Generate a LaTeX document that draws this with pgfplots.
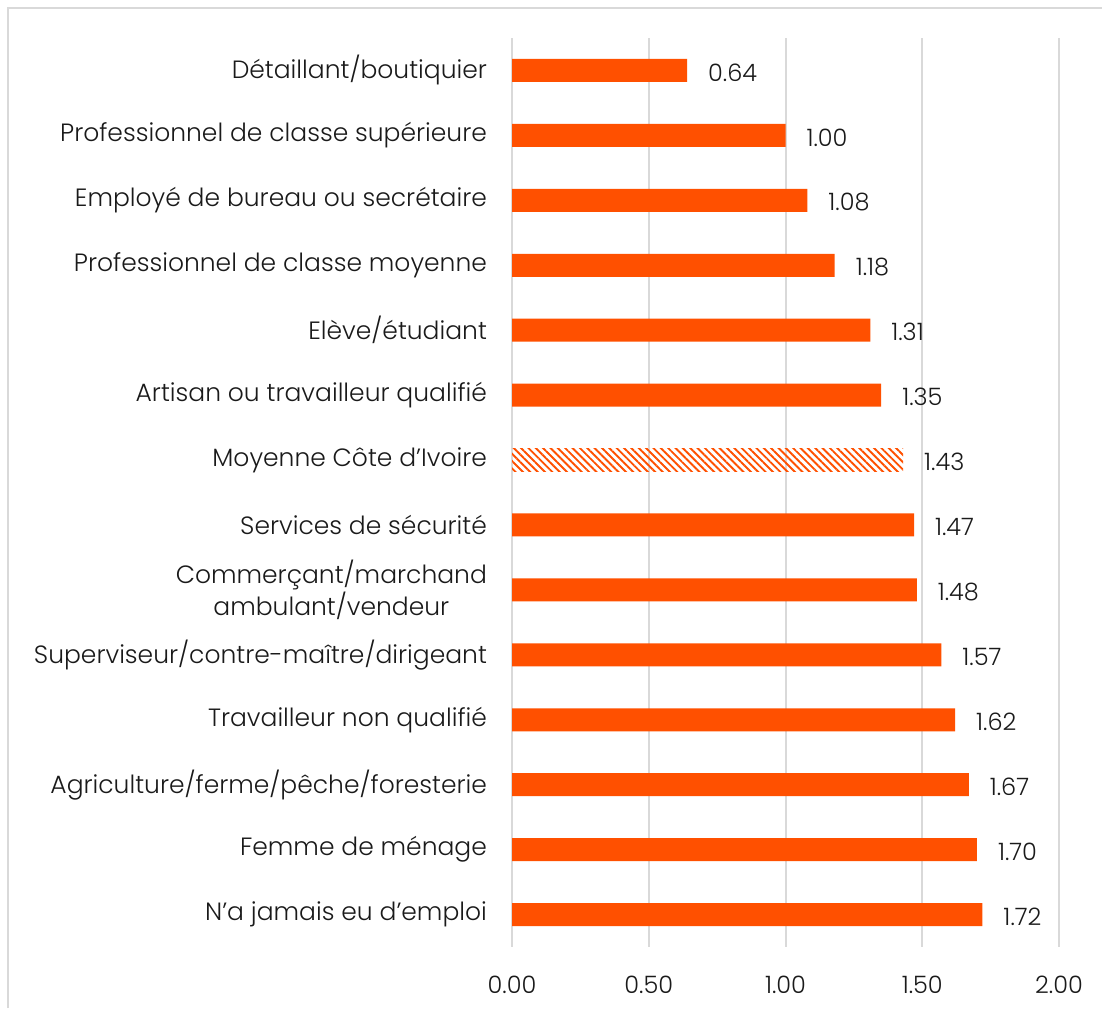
\documentclass[border=0pt]{standalone}
\usepackage{fontspec}
\setmainfont{Poppins}[UprightFont={* Light}]
\usepackage{pgfplots}
\pgfplotsset{compat=1.18}
\usetikzlibrary{patterns.meta}
\definecolor{barc}{HTML}{FF5000}
\definecolor{gridc}{HTML}{D9D9D9}
\definecolor{txt}{HTML}{1A1A1A}
\begin{document}
\begin{tikzpicture}
\path[use as bounding box] (0,0) rectangle (551pt,504pt);
\draw[gridc, line width=1pt] (4pt,0) -- (4pt,500pt) -- (551pt,500pt);
\begin{axis}[at={(256pt,30.5pt)}, anchor=south west, scale only axis,
 width=273.5pt, height=454.5pt,
 xmin=0, xmax=2, ymin=-0.5, ymax=13.5, y dir=reverse,
 xbar, bar width=11.5pt, bar shift=0pt,
 axis line style={draw=none}, major tick length=0pt,
 xmajorgrids, grid style={gridc, line width=1pt},
 xtick={0,0.5,1,1.5,2},
 xticklabel style={yshift=-11pt, text=txt, font=\fontsize{12}{16}\selectfont, /pgf/number format/.cd, fixed, fixed zerofill, precision=2, assume math mode=true},
 ytick={0,...,13},
 yticklabels={Détaillant/boutiquier, Professionnel de classe supérieure, Employé de bureau ou secrétaire, Professionnel de classe moyenne, Elève/étudiant, Artisan ou travailleur qualifié, Moyenne Côte d’Ivoire, Services de sécurité, {Commerçant/marchand\\ambulant/vendeur}, Superviseur/contre-maître/dirigeant, Travailleur non qualifié, Agriculture/ferme/pêche/foresterie, Femme de ménage, N’a jamais eu d’emploi},
 yticklabel style={align=center, xshift=-9pt, text=txt, font=\fontsize{12.5}{16}\selectfont},
 nodes near coords={\pgfmathprintnumber[fixed, fixed zerofill, precision=2, assume math mode=true]{\pgfplotspointmeta}},
 nodes near coords style={anchor=west, xshift=7pt, yshift=-1pt, text=txt, font=\fontsize{12}{16}\selectfont},
]
\addplot[draw=none, fill=barc] coordinates {(0.64,0) (1.00,1) (1.08,2) (1.18,3) (1.31,4) (1.35,5) (1.47,7) (1.48,8) (1.57,9) (1.62,10) (1.67,11) (1.70,12) (1.72,13)};
\addplot[draw=none, pattern={Lines[angle=-45, distance=2.6pt, line width=0.95pt]}, pattern color=barc] coordinates {(1.43,6)};
\end{axis}
\end{tikzpicture}
\end{document}
